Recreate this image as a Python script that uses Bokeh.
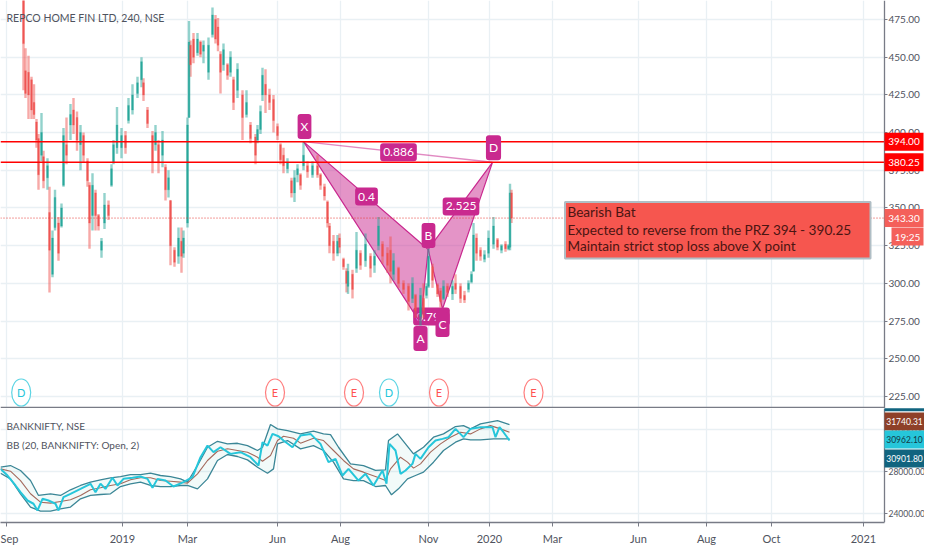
from bokeh.plotting import figure
from bokeh.layouts import column
from bokeh.models import (Range1d, FixedTicker, NumeralTickFormatter, Label, Grid, LinearAxis,
                          ColumnDataSource)
from bokeh.embed import file_html
from bokeh.resources import INLINE

FONT = "Lato"

bar_x = [23,25,28,31,33.5,36,38,41,43,47,49,52,54.5,58,61,63,66,70,73,76.5,80,83,87,89,92,95,98,101,104,108,
         111,113,116.5,121,125,128,132,137,141,143,147,152,155,158,162,165,168,170,174,178,181,183,187,188.5,190,193,197,200,203,208,
         212,215,217.5,220,223,227,230,233,237,242,246,250,255,257,260,262,265,269,273,277,280,283,287,291,294,297,300,303,307,312,
         317,320,324,327,329,333,337,339,343,346,347.5,352,356,360,365,370,374,378,382,387,390,393,398,403,408,412,415,420,423,426,
         428,432,437,440,443,447,452,455,460,464,468,471,473,476,480,484,488,493,497,501,505,508,509.5,511]
bar_high = [490,456,451,437,432,409,399,413,388,383,364,335,362,344,353,403,410,419,423,414,405,400,383,367,373,362,346,330,360,355,
            379,395,417,403,401,423,432,437,450,436,417,401,405,395,401,379,375,355,324,337,337,335,410,474,461,466,466,461,461,463,
            483,478,476,454,459,446,454,437,446,428,428,407,399,405,418,443,442,429,425,406,393,390,383,370,375,379,373,394,381,381,
            385,373,366,355,340,332,332,333,317,310,313,309,334,322,333,320,322,344,328,324,331,320,311,302,300,304,293,297,300,300,
            323,313,300,297,302,300,302,306,300,295,302,308,340,333,324,322,335,344,330,326,328,326,366,362]
bar_low = [428,423,409,409,409,390,362,381,363,362,294,304,335,315,337,364,379,395,399,388,375,380,364,323,335,335,335,317,336,342,
           364,379,386,383,386,406,412,423,430,421,403,373,388,373,377,355,357,312,311,313,307,317,337,410,437,446,451,450,446,435,
           463,459,454,426,441,435,437,415,423,395,410,393,379,393,399,421,413,415,400,395,379,373,373,357,354,367,362,375,370,370,
           370,362,355,337,320,315,318,320,309,294,293,290,307,309,311,304,307,322,313,307,300,302,297,293,282,287,277,272,277,290,
           297,297,291,284,289,291,289,293,287,287,294,300,308,315,315,314,317,323,322,320,321,322,322,340]
bar_open = [490,441,440,435,420,407,396,385,384,370,347,306,337,340,338,365,392,405,415,410,392,398,381,365,345,360,345,322,340,352,
            365,380,390,390,398,408,415,426,435,433,415,398,392,392,385,377,362,355,322,318,328,320,340,410,458,462,453,460,454,440,
            465,475,470,452,445,445,440,435,428,425,412,405,397,395,402,425,432,425,422,404,392,385,376,368,360,372,372,378,378,372,
            378,372,364,354,338,328,320,330,316,308,298,306,310,320,315,318,312,325,326,320,322,306,310,300,298,290,292,278,290,292,
            298,311,299,295,290,298,293,300,298,292,296,301,308,330,322,316,320,326,329,322,326,323,324,360]
bar_close = [459,426,425,415,412,395,372,400,368,378,322,330,357,320,350,398,385,412,405,395,400,385,368,340,365,345,338,328,352,345,
             376,392,405,398,390,418,425,433,447,425,406,380,400,380,395,362,370,325,314,330,318,330,405,460,445,450,462,452,458,458,
             478,462,458,440,455,438,450,420,442,410,420,396,385,402,414,438,425,420,408,398,382,378,380,360,370,376,365,385,374,378,
             372,365,358,340,325,320,328,324,311,300,308,296,322,312,326,310,318,338,318,312,308,315,300,296,288,300,282,292,282,298,
             318,302,293,288,298,294,298,296,290,289,300,306,332,320,318,319,330,338,324,325,323,325,360,343.3]

ticks_price = [225,250,275,300,325,350,375,400,425,450,475]
ticks_bank = [24000,28000,32000]
ticks_x = [5.5,122,187,277,340,428,489,552,638,706,771,863]
tick_labels = ["Sep","2019","Mar","Jun","Aug","Nov","2020","Mar","Jun","Aug","Oct","2021"]

pattern_x = [303,420,427.7,442,492]
pattern_y = [394,273.6,322.5,283,380.25]

level_prz_high = 394.00
level_prz_low = 380.25
last_price = 343.30

event_x = [20.7,274.5,353.5,388.5,438.5,533]
event_y = [227.6]*6
event_text = ["D","E","E","D","E","E"]
event_color = ["#26c6da","#ff5252","#ff5252","#26c6da","#ff5252","#ff5252"]

note_lines = ["Bearish Bat","Expected to reverse from the PRZ 394 - 390.25","Maintain strict stop loss above X point"]

bb_mid_x = [0,10,20,30,40,50,60,70,80,90,100,110,120,130,140,150,160,170,180,187,197,207,217,227,237,247,257,262,270,277,283,293,300,313,323,333,343,353,363,377,385,390,400,407,413,420,430,440,450,460,470,480,490,500,509]
bb_mid = [28250,28030,27140,25880,25080,24990,25150,25310,25720,26260,26450,26670,26830,27210,27400,27400,27140,27080,26990,26890,27780,29050,29930,30160,30000,29840,29360,28980,29520,30950,31360,31170,30700,31170,30950,30000,29050,28250,27940,27460,27140,28250,29360,28890,28320,28730,29840,30630,31270,31740,31580,32060,32370,32060,31740]
bb_up_x = [0,10,20,30,38,50,60,70,80,90,100,110,120,130,140,150,160,170,180,187,197,207,217,227,237,247,257,262,270,277,287,300,313,323,330,338,350,363,375,385,388,397,405,413,423,433,443,455,463,470,480,497,509]
bb_up = [28410,28570,28100,27140,25720,25880,25720,26260,26670,26990,27210,27400,27520,27710,27710,27840,27620,27520,27300,26990,28570,30310,30880,30630,30690,30470,30000,30310,32470,32060,31900,31580,31840,31580,31520,30310,28730,28570,28100,28160,30950,31580,30630,29680,30310,31270,31580,32280,32370,32060,32530,32850,32470]
bb_lo_x = [0,10,20,30,40,50,60,70,80,90,100,110,120,130,140,150,160,170,180,187,197,207,217,227,237,247,257,267,273,277,287,300,313,323,333,343,353,363,375,385,391,398,407,415,423,433,443,455,463,470,480,493,509]
bb_lo = [27840,27300,25880,24610,24230,24230,24450,24610,25400,25720,25810,25880,26570,26830,26990,26670,26570,26570,26670,26670,26350,27300,29050,29620,29430,29110,28410,27840,28250,30630,30950,30160,30470,30000,28890,27300,27140,27140,26570,26670,25780,26350,27300,27620,27940,28890,30000,30790,31110,31010,31010,31110,31110]
bank_x = [0,7,15,20,27,33,37,42,48,55,58,63,70,80,90,95,100,105,112,117,123,132,140,147,152,157,165,173,183,192,200,207,213,220,230,240,250,258,262,267,272,278,283,292,300,310,320,328,335,342,348,358,365,373,382,386,389,395,400,405,412,415,420,428,435,442,448,455,463,470,480,492,495,499,503,509]
bank_close = [28250,27620,26670,26030,25240,24930,24290,25400,25240,24930,24290,25560,25880,26350,26830,26030,26830,26350,27400,26670,27300,27400,27520,27300,26450,27300,27140,26570,26990,27460,29360,30470,29840,30310,29680,29840,29360,28570,30790,30470,31580,31360,30950,30310,31420,31580,30630,28890,29200,27620,28250,27140,27780,26670,28100,26830,30630,30000,27780,28100,28730,29680,29200,30310,30950,31110,31270,32060,31270,32060,32220,32220,31270,32220,31740,30950]

TXT = "#4f535e"
GRID = "#e9f0f4"
AXIS = "#787b86"
RED = "#ef5350"
TEAL = "#26a69a"
PINK = "#c9298f"
RAIL = 884


def setup(p, yticks, size):
    p.outline_line_color = None
    p.background_fill_color = "white"
    p.border_fill_color = "white"
    p.add_layout(Grid(dimension=0, ticker=FixedTicker(ticks=ticks_x), grid_line_color=GRID, grid_line_width=1.3))
    p.add_layout(Grid(dimension=1, ticker=FixedTicker(ticks=yticks), grid_line_color=GRID, grid_line_width=1.3))
    # the price rail right of the axis has no grid
    p.quad(left=[RAIL], right=[930], top=[p.y_range.end], bottom=[p.y_range.start], fill_color="white", line_color=None)
    ax = LinearAxis(fixed_location=RAIL, ticker=FixedTicker(ticks=yticks),
                    formatter=NumeralTickFormatter(format="0.00"),
                    axis_line_color=AXIS, axis_line_width=1.3, major_tick_line_color=AXIS,
                    major_tick_in=0, major_tick_out=3, minor_tick_line_color=None,
                    major_label_text_color=TXT, major_label_text_font=FONT,
                    major_label_text_font_size=size, major_label_standoff=1)
    p.add_layout(ax, "right")


def badge(p, y, text, bg, fg="white", left=RAIL, right=923, height=18, size="10px"):
    p.rect(x=[(left + right) / 2], y=[y], width=[right - left], height=[height], height_units="screen",
           fill_color=bg, line_color=None, level="annotation")
    p.add_layout(Label(x=(left + right) / 2, y=y, text=text, text_color=fg, text_font=FONT, text_font_size=size,
                       text_align="center", text_baseline="middle"))


def tag(p, x, y, text, size="12px", level="annotation", pad=(3, 5)):
    p.add_layout(Label(x=x, y=y, text=text, text_color="white", text_font=FONT, text_font_size=size,
                       text_align="center", text_baseline="middle", level=level,
                       background_fill_color=PINK, border_radius=3, padding=pad))


def hline(p, y, **kw):
    p.line([0, RAIL], [y, y], **kw)


p1 = figure(frame_width=924, frame_height=408, x_range=Range1d(0, 924), y_range=Range1d(217, 487.6),
            x_axis_location=None, y_axis_location=None,
            output_backend="svg", toolbar_location=None,
            min_border_left=0, min_border_right=0, min_border_top=0, min_border_bottom=0)
p1.grid.visible = False
setup(p1, ticks_price, "10px")

# harmonic pattern, beneath the candles
p1.patch(pattern_x[:3], pattern_y[:3], fill_color=PINK, fill_alpha=0.5, line_color=PINK, line_width=1.2)
p1.patch(pattern_x[2:], pattern_y[2:], fill_color=PINK, fill_alpha=0.5, line_color=PINK, line_width=1.2)
p1.line([pattern_x[0], pattern_x[4]], [pattern_y[0], pattern_y[4]], line_color=PINK, line_alpha=0.55, line_width=1.5)
tag(p1, 431, 278, "0.790", level="underlay")

colors = [TEAL if c > o else RED for o, c in zip(bar_open, bar_close)]
src = ColumnDataSource(dict(x=bar_x, high=bar_high, low=bar_low, open=bar_open, close=bar_close, color=colors))
p1.segment("x", "high", "x", "low", source=src, line_color="color", line_alpha=0.5, line_width=2.4)
p1.vbar("x", 1.6, "open", "close", source=src, fill_color="color", line_color="color", line_width=0.3, fill_alpha=0.95)

hline(p1, level_prz_high, line_color="#ff0000", line_width=1.5)
hline(p1, level_prz_low, line_color="#ff0000", line_width=1.5)
hline(p1, last_price, line_color="#e53935", line_width=1, line_dash=[1, 2])
hline(p1, 217.3, line_color=AXIS, line_width=2.5)

p1.ellipse(event_x, event_y, width=19, height=27, width_units="screen", height_units="screen",
           fill_color="white", line_color=event_color, line_width=1.2, line_alpha=0.75)
p1.text(event_x, event_y, text=event_text, text_color=event_color, text_font={"value": FONT},
        text_font_size={"value": "11px"}, text_align="center", text_baseline="middle")

p1.quad(left=[564.5], right=[870], top=[353.9], bottom=[316.5], fill_color="#f6564f", fill_alpha=1,
        line_color="#b0bec5", line_width=2)
for text_y, line in zip([347.0, 335.7, 324.5], note_lines):
    p1.add_layout(Label(x=567, y=text_y, text=line, text_color="#4b1512", text_font=FONT,
                        text_font_size="13.6px", text_align="left", text_baseline="middle"))

tag(p1, pattern_x[0] + 1, 404, "X")
tag(p1, 493, 390, "D")
tag(p1, 398, 387, "0.886")
tag(p1, 366, 357.6, "0.4")
tag(p1, 460.5, 351, "2.525")
tag(p1, 428, 331.8, "B")
tag(p1, 420, 263.5, "A")
tag(p1, 442, 272.7, "C")

p1.add_layout(Label(x=6, y=476.3, text="REPCO HOME FIN LTD, 240, NSE", text_color=TXT,
                    text_font=FONT, text_font_size="10.5px", text_baseline="middle"))
badge(p1, level_prz_high, "394.00", "#ff0000")
badge(p1, level_prz_low, "380.25", "#ff0000")
badge(p1, last_price, "343.30", "#f4605a")
badge(p1, 331, "19:25", "#f4605a", left=891)

p2 = figure(frame_width=924, frame_height=114,
            x_range=Range1d(0, 924), y_range=Range1d(23145, 34000), y_axis_location=None,
            output_backend="svg", toolbar_location=None,
            min_border_left=0, min_border_right=0, min_border_top=0, min_border_bottom=20)
p2.grid.visible = False
setup(p2, ticks_bank, "8.5px")
xa = p2.xaxis[0]
xa.bounds = (0, RAIL)
xa.ticker = FixedTicker(ticks=ticks_x)
xa.major_label_overrides = {t: l for t, l in zip(ticks_x, tick_labels)}
xa.axis_line_color = AXIS
xa.axis_line_width = 1.5
xa.major_tick_line_color = AXIS
xa.major_tick_out = 4
xa.major_tick_in = 0
xa.minor_tick_line_color = None
xa.major_label_text_color = TXT
xa.major_label_text_font = FONT
xa.major_label_text_font_size = "11px"
xa.major_label_standoff = 5

p2.patch(bb_up_x + bb_lo_x[::-1], bb_up + bb_lo[::-1], fill_color=TEAL, fill_alpha=0.06, line_color=None)
p2.line(bb_up_x, bb_up, line_color="#3b8696", line_width=1.3)
p2.line(bb_lo_x, bb_lo, line_color="#3b8696", line_width=1.3)
p2.line(bb_mid_x, bb_mid, line_color="#a4695c", line_width=1.1)
p2.line(bank_x, bank_close, line_color="#26c6da", line_width=2)

p2.add_layout(Label(x=6, y=32380, text="BANKNIFTY, NSE", text_color=TXT, text_font=FONT,
                    text_font_size="10px", text_baseline="middle"))
p2.add_layout(Label(x=6, y=30570, text="BB (20, BANKNIFTY: Open, 2)", text_color=TXT, text_font=FONT,
                    text_font_size="10px", text_baseline="middle"))

badge(p2, 33880, "", "#11647f", height=3, right=924)
badge(p2, 32760, "31740.31", "#8e4028", right=924, size="8.5px")
badge(p2, 31046, "30962.10", "#26c6da", fg="#123a46", right=924, size="8.5px")
badge(p2, 29238, "30901.80", "#11647f", right=924, size="8.5px")

open("out.html", "w").write(file_html(column(p1, p2, spacing=0), INLINE))
